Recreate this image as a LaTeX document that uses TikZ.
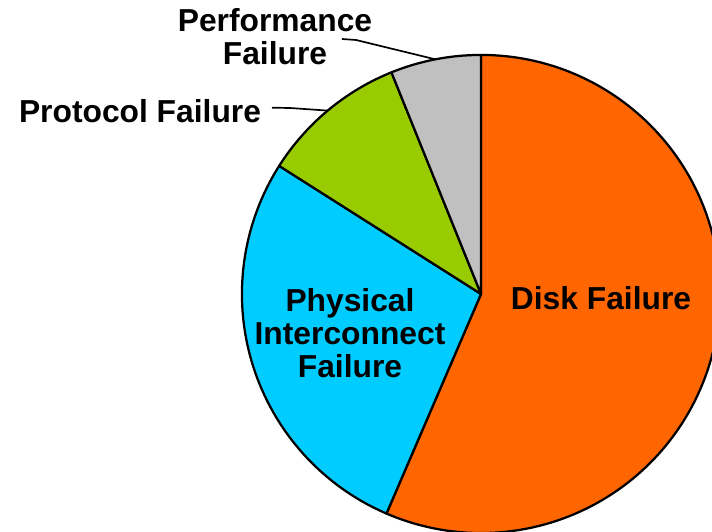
\documentclass[tikz,border=0pt]{standalone}
\usepackage{fontspec}
\setmainfont{Liberation Sans}
\usepackage{tikz}
\usetikzlibrary{positioning, calc}
\definecolor{diskc}{HTML}{FF6600}
\definecolor{physc}{HTML}{00CCFF}
\definecolor{protc}{HTML}{99CC00}
\definecolor{perfc}{HTML}{C0C0C0}
\newcommand{\pielabel}{\fontsize{22.6}{23.4}\selectfont\bfseries}
\newcommand{\sliceR}{5.975cm}

\begin{document}
\begin{tikzpicture}[x=0.025cm, y=0.025cm,
    slice/.style={draw=black, line width=1.6pt, line join=round},
    leader/.style={draw=black, line width=1.2pt},
    lbl/.style={font=\pielabel, align=center, inner sep=0pt}]
      \useasboundingbox (0,0) rectangle (712,532);
      \clip (0,0) rectangle (712,532);
      \coordinate (c) at (481,238);

      % slices, clockwise from the top
      \filldraw[slice, fill=diskc] (c) -- ++(90:\sliceR) arc[start angle=90, end angle=-113.3, radius=\sliceR] -- cycle;
      \filldraw[slice, fill=physc] (c) -- ++(246.7:\sliceR) arc[start angle=246.7, end angle=147.6, radius=\sliceR] -- cycle;
      \filldraw[slice, fill=protc] (c) -- ++(147.6:\sliceR) arc[start angle=147.6, end angle=112, radius=\sliceR] -- cycle;
      \filldraw[slice, fill=perfc] (c) -- ++(112:\sliceR) arc[start angle=112, end angle=90, radius=\sliceR] -- cycle;

      \node[lbl] (disk) at (601,234) {Disk Failure};
      \node[lbl] (phys) at (350,199) {Physical\\Interconnect\\Failure};
      \node[lbl] (prot) at (140,421) {Protocol Failure};
      \node[lbl] (perf) at (275,495) {Performance\\Failure};

      % leaders
      \coordinate (perfpt) at ($(c)+(101:\sliceR)$);
      \coordinate (protpt) at ($(c)+(129.9:\sliceR)$);
      \coordinate (perfleg) at (342,493);
      \coordinate (protleg) at (272,424.3);
      \draw[leader] (perfleg) -- ++(14,-1) -- (perfpt);
      \draw[leader] (protleg) -- ++(18,-0.3) -- (protpt);
    \end{tikzpicture}
\end{document}
